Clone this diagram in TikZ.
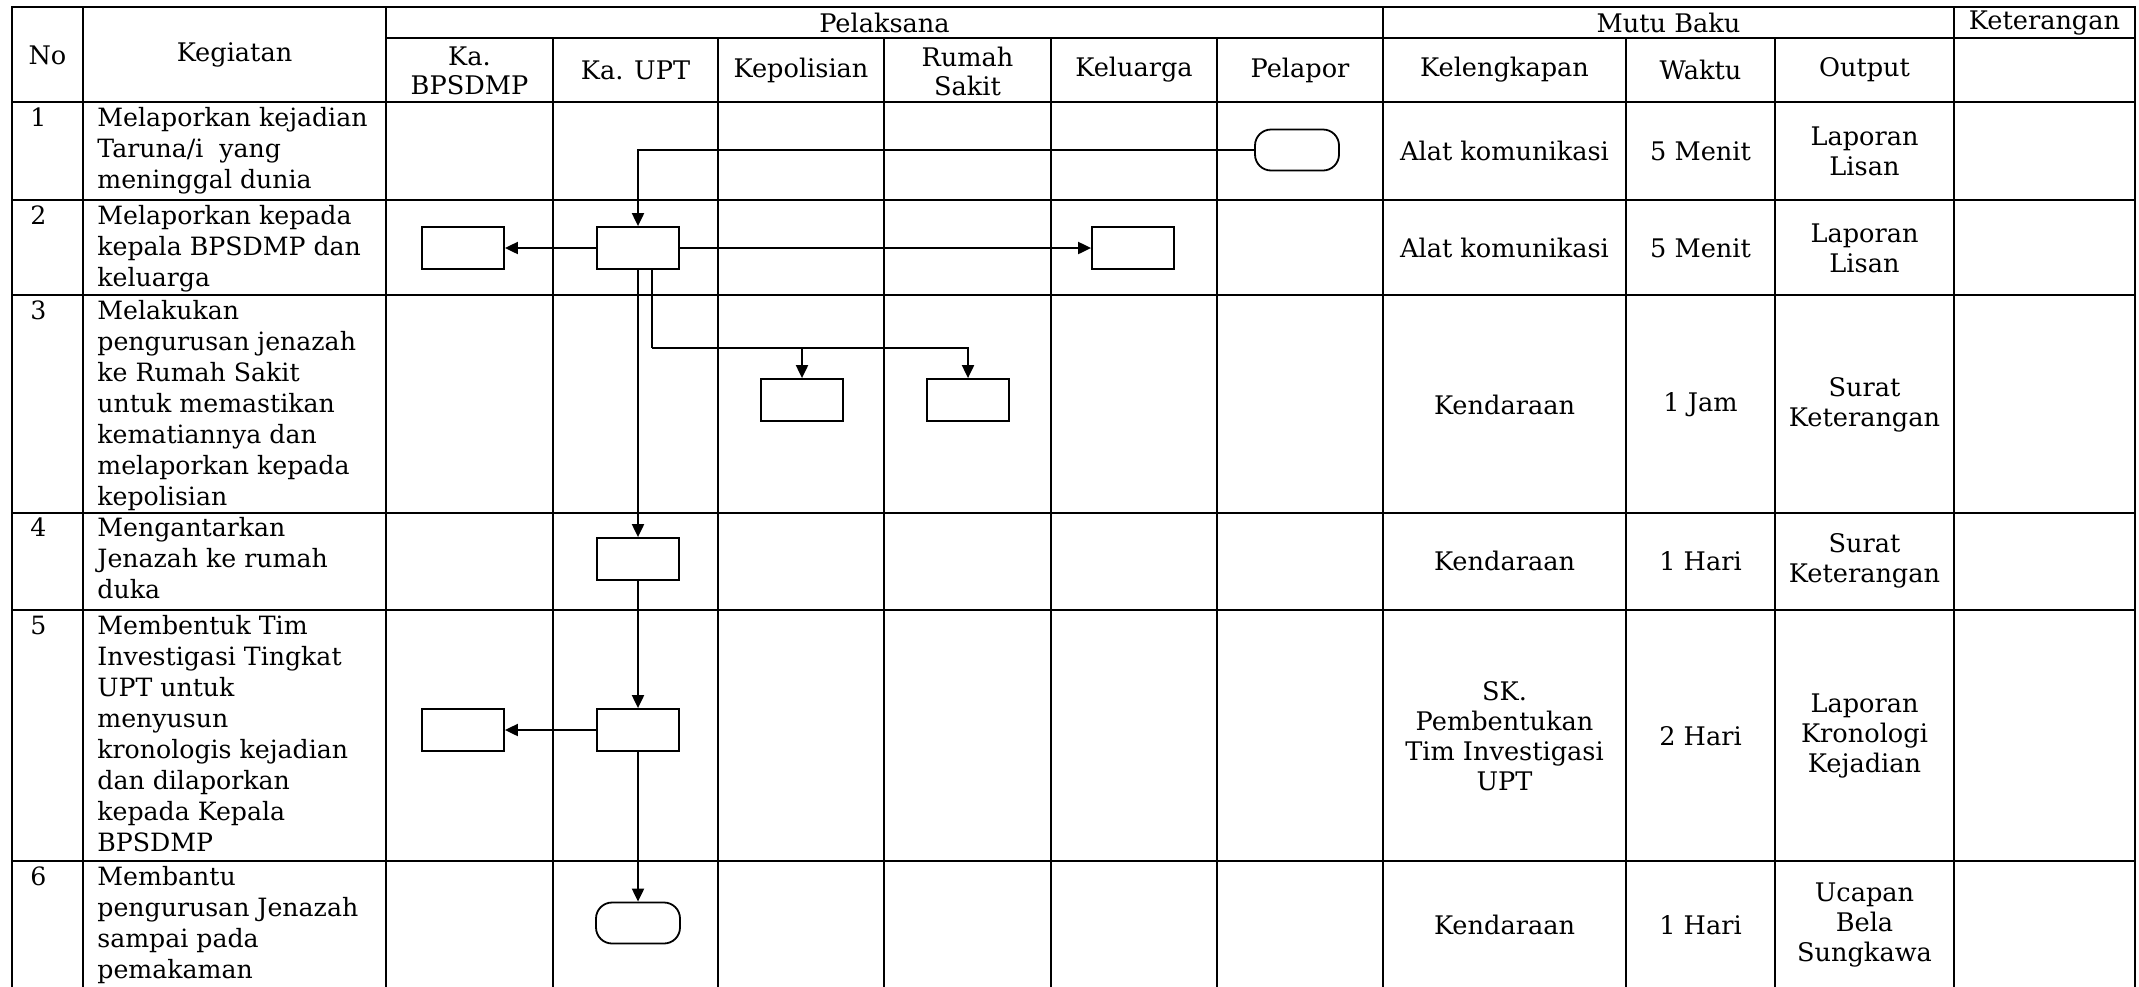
\documentclass[tikz,border=0pt]{standalone}
\usepackage{fontspec}
\setmainfont{DejaVu Serif}
\usetikzlibrary{arrows.meta,calc}
\begin{document}
\begin{tikzpicture}[x=0.5pt,y=-0.5pt,
  grid/.style={line width=1.1pt,line cap=rect},
  box/.style={draw,line width=0.9pt,fill=white,minimum width=41pt,minimum height=21pt,inner sep=0pt},
  term/.style={box,rounded corners=8pt,minimum width=42pt,minimum height=20.5pt},
  arr/.style={line width=1pt,-{Triangle[length=6.5pt,width=6pt]}},
  ln/.style={line width=1pt},
  hd/.style={font=\fontsize{12.8}{14.5}\selectfont,align=center,inner sep=0pt},
  act/.style={font=\fontsize{12.6}{15.5}\selectfont,align=left,anchor=north west,inner sep=0pt},
  cell/.style={font=\fontsize{12.8}{15}\selectfont,align=center,inner sep=0pt},
]
\useasboundingbox (0,0) rectangle (2139,986);
% grid
\foreach \y in {7,102,200,295,513,610,861} \draw[grid] (12,\y) -- (2135,\y);
\draw[grid] (386,38) -- (2135,38);
\foreach \x in {12,83,386,1383,1954,2135} \draw[grid] (\x,7) -- (\x,986);
\foreach \x in {553,718,884,1051,1217,1626,1775} \draw[grid] (\x,38) -- (\x,986);
% headers
\node[hd] (hNo) at (47.5,55) {No};
\node[hd] (hKeg) at (234.5,55) {Kegiatan};
\node[hd] (hPel) at (884.5,22.5) {Pelaksana};
\node[hd] (hMutu) at (1668.5,22.5) {Mutu Baku};
\node[hd] (hKet) at (2044.5,23) {Keterangan};
\node[hd] (hKaB) at (469.5,71) {Ka.\\BPSDMP};
\node[hd] (hUPT) at (635.5,70) {Ka. UPT};
\node[hd] (hKep) at (801,70) {Kepolisian};
\node[hd] (hRS) at (967.5,71) {Rumah\\Sakit};
\node[hd] (hKel) at (1134,70) {Keluarga};
\node[hd] (hPlp) at (1300,70) {Pelapor};
\node[hd] (hKlk) at (1504.5,70) {Kelengkapan};
\node[hd] (hWkt) at (1700.5,70) {Waktu};
\node[hd] (hOut) at (1864.5,70) {Output};
% numbers
\node[act] (n1) at (30,104) {\strut 1};
\node[act] (n2) at (30,202) {\strut 2};
\node[act] (n3) at (30,297) {\strut 3};
\node[act] (n4) at (30,514.5) {\strut 4};
\node[act] (n5) at (30,612) {\strut 5};
\node[act] (n6) at (30,863) {\strut 6};
% activities
\node[act] (a1) at (97,104) {\strut Melaporkan kejadian\\Taruna/i~ yang\\meninggal dunia};
\node[act] (a2) at (97,202) {\strut Melaporkan kepada\\kepala BPSDMP dan\\keluarga};
\node[act] (a3) at (97,297) {\strut Melakukan\\pengurusan jenazah\\ke Rumah Sakit\\untuk memastikan\\kematiannya dan\\melaporkan kepada\\kepolisian};
\node[act] (a4) at (97,514.5) {\strut Mengantarkan\\Jenazah ke rumah\\duka};
\node[act] (a5) at (97,612) {\strut Membentuk Tim\\Investigasi Tingkat\\UPT untuk\\menyusun\\kronologis kejadian\\dan dilaporkan\\kepada Kepala\\BPSDMP};
\node[act] (a6) at (97,863) {\strut Membantu\\pengurusan Jenazah\\sampai pada\\pemakaman};
% mutu baku cells
\node[cell] (k1) at (1504.5,151) {Alat komunikasi};
\node[cell] (w1) at (1700.5,151) {5 Menit};
\node[cell] (o1) at (1864.5,151) {Laporan\\Lisan};
\node[cell] (k2c) at (1504.5,248) {Alat komunikasi};
\node[cell] (w2) at (1700.5,248) {5 Menit};
\node[cell] (o2) at (1864.5,248) {Laporan\\Lisan};
\node[cell] (k3) at (1504.5,405) {Kendaraan};
\node[cell] (w3) at (1700.5,405) {1 Jam};
\node[cell] (o3) at (1864.5,405) {Surat\\Keterangan};
\node[cell] (k4) at (1504.5,561) {Kendaraan};
\node[cell] (w4) at (1700.5,561) {1 Hari};
\node[cell] (o4) at (1864.5,561) {Surat\\Keterangan};
\node[cell] (k5) at (1504.5,736) {SK.\\Pembentukan\\Tim Investigasi\\UPT};
\node[cell] (w5) at (1700.5,736) {2 Hari};
\node[cell] (o5) at (1864.5,736) {Laporan\\Kronologi\\Kejadian};
\node[cell] (k6) at (1504.5,925) {Kendaraan};
\node[cell] (w6) at (1700.5,925) {1 Hari};
\node[cell] (o6) at (1864.5,925) {Ucapan\\Bela\\Sungkawa};
% flow shapes
\node[term] (t1) at (1297,150) {};
\node[box] (u2) at (638,248) {};
\node[box] (b2) at (463,248) {};
\node[box] (k2) at (1133,248) {};
\node[box] (p3) at (802,400) {};
\node[box] (r3) at (968,400) {};
\node[box] (u4) at (638,559) {};
\node[box] (u5) at (638,730) {};
\node[box] (b5) at (463,730) {};
\node[term] (t6) at (638,923) {};
\coordinate (j3) at (652,348);
% connectors
\draw[arr] (t1.west) -| (u2.north);
\draw[arr] (u2.west) -- (b2.east);
\draw[arr] (u2.east) -- (k2.west);
\draw[arr] (u2.south) -- (u4.north);
\draw[ln] (u2.south -| j3) -- (j3);
\draw[arr] (j3) -| (p3.north);
\draw[arr] (j3) -| (r3.north);
\draw[arr] (u4.south) -- (u5.north);
\draw[arr] (u5.west) -- (b5.east);
\draw[arr] (u5.south) -- (t6.north);
\end{tikzpicture}
\end{document}
